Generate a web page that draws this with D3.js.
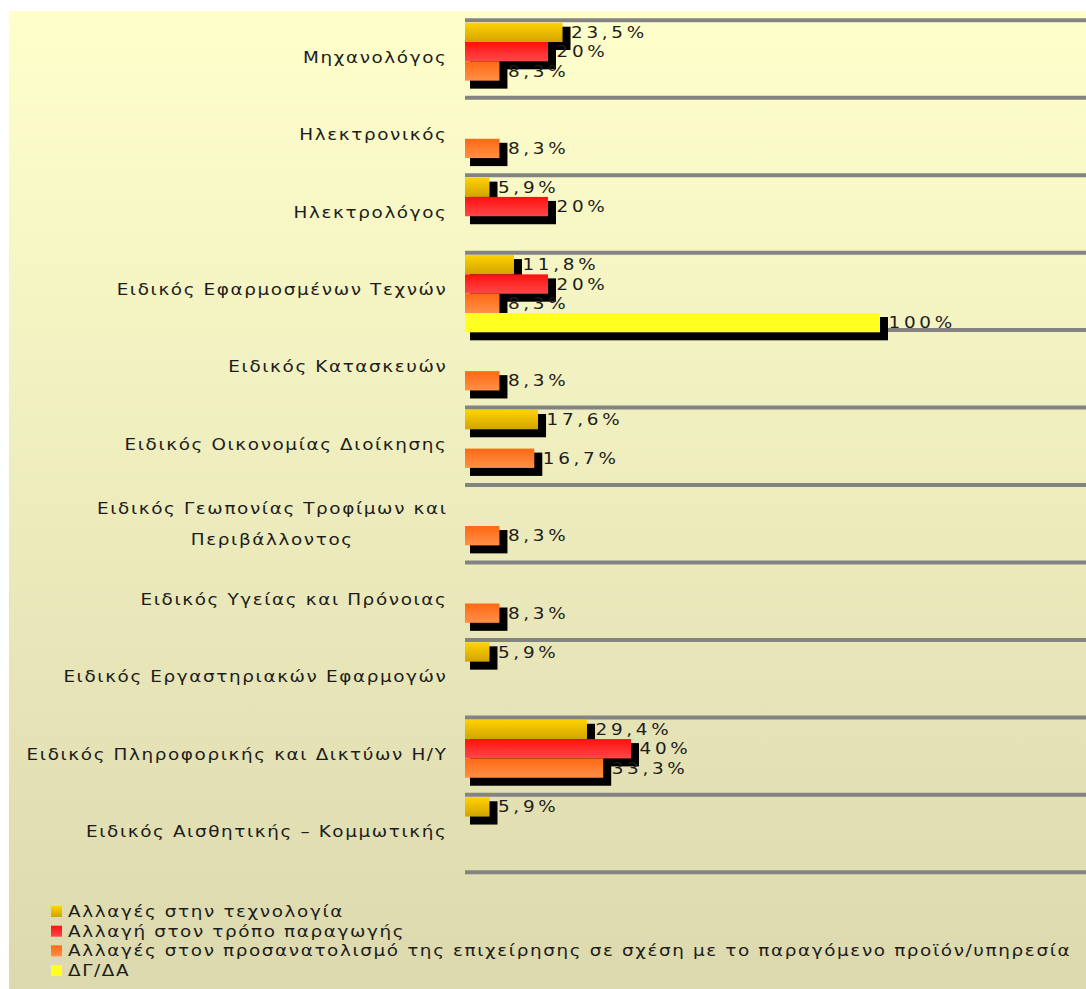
<!DOCTYPE html>
<html>
<head>
<meta charset="utf-8">
<script src="https://cdn.jsdelivr.net/npm/d3@7"></script>
<style>
  body { margin: 0; background: #ffffff; }
  svg { display: block; }
  text { font-family: "DejaVu Sans", Verdana, sans-serif; fill: #1c1c1c; }
</style>
</head>
<body>
<div id="my_dataviz"></div>
<script>
//Data
var categories = [
  ["Μηχανολόγος"],
  ["Ηλεκτρονικός"],
  ["Ηλεκτρολόγος"],
  ["Ειδικός Εφαρμοσμένων Τεχνών"],
  ["Ειδικός Κατασκευών"],
  ["Ειδικός Οικονομίας Διοίκησης"],
  ["Ειδικός Γεωπονίας Τροφίμων και", "Περιβάλλοντος"],
  ["Ειδικός Υγείας και Πρόνοιας"],
  ["Ειδικός Εργαστηριακών Εφαρμογών"],
  ["Ειδικός Πληροφορικής και Δικτύων Η/Υ"],
  ["Ειδικός Αισθητικής – Κομμωτικής"]
];
var seriesNames = [
  "Αλλαγές στην τεχνολογία",
  "Αλλαγή στον τρόπο παραγωγής",
  "Αλλαγές στον προσανατολισμό της επιχείρησης σε σχέση με το παραγόμενο προϊόν/υπηρεσία",
  "ΔΓ/ΔΑ"
];
// null = no bar for that category
var techValues   = [23.5, null, 5.9, 11.8, null, 17.6, null, null, 5.9, 29.4, 5.9];
var prodValues   = [20, null, 20, 20, null, null, null, null, null, 40, null];
var orientValues = [8.3, 8.3, null, 8.3, 8.3, 16.7, 8.3, 8.3, null, 33.3, null];
var dgdaValues   = [null, null, null, 100, null, null, null, null, null, null, null];
var seriesValues = [techValues, prodValues, orientValues, dgdaValues];

//Variables
var outerWidth = 1086, outerHeight = 989;
var gradStops = [
  ["#ffd200", "#d2a400"],
  ["#ff0f0f", "#ff4848"],
  ["#ff6812", "#ff9048"],
  ["#ffff22", "#ffff22"]
];
var linecolor = "#838383";
var shadowcolor = "#000000";
var stretch = 1.15;       // the original text is drawn wide and spaced
var labelSpacing = 1.4;
var valueSpacing = 3.2;

var svg = d3.select("#my_dataviz").append("svg")
  .attr("width", outerWidth)
  .attr("height", outerHeight);

var defs = svg.append("defs");

// background gradient
var bg = defs.append("linearGradient").attr("id", "bggrad")
  .attr("x1", 0).attr("y1", 0).attr("x2", 0).attr("y2", 1);
bg.append("stop").attr("offset", "0%").attr("stop-color", "#ffffcc");
bg.append("stop").attr("offset", "100%").attr("stop-color", "#dcd9ae");

// bar gradients
gradStops.forEach(function(s, i) {
  var g = defs.append("linearGradient").attr("id", "bar" + i)
    .attr("x1", 0).attr("y1", 0).attr("x2", 0).attr("y2", 1);
  g.append("stop").attr("offset", "0%").attr("stop-color", s[0]);
  g.append("stop").attr("offset", "100%").attr("stop-color", s[1]);
});

svg.append("rect")
  .attr("x", 9).attr("y", 11)
  .attr("width", outerWidth - 9).attr("height", outerHeight - 11)
  .attr("fill", "url(#bggrad)");

// wide text helper: text at (px,py) stretched horizontally
function wideText(parent, px, py, spacing) {
  return parent.append("g")
    .attr("transform", "translate(" + px + "," + py + ") scale(" + stretch + ",1)")
    .append("text")
    .attr("font-size", 16)
    .attr("letter-spacing", spacing);
}

// scales
var x = d3.scaleLinear().domain([0, 100]).range([465, 880]);
var y = d3.scaleBand().domain(d3.range(categories.length)).range([20.3, 872.3]).padding(0);
var ySub = d3.scaleBand().domain(d3.range(seriesNames.length)).range([2.4, y.bandwidth() + 2.2]).padding(0);

// category separator lines
var lineYs = d3.range(categories.length).map(function(i) { return y(i); }).concat([y.range()[1]]);
svg.append("g").selectAll("line")
  .data(lineYs)
  .enter().append("line")
  .attr("x1", x(0)).attr("x2", outerWidth)
  .attr("y1", function(d) { return d; })
  .attr("y2", function(d) { return d; })
  .attr("stroke", linecolor)
  .attr("stroke-width", 4);

// category labels
var labelRight = 447.5;
var labelsCat = svg.append("g");
categories.forEach(function(lines, i) {
  var cy = y(i) + y.bandwidth() / 2;
  var lineGap = 31;
  if (lines.length == 1) {
    wideText(labelsCat, labelRight, cy - 2, labelSpacing)
      .attr("text-anchor", "end")
      .attr("dominant-baseline", "central")
      .text(lines[0]);
  } else {
    var t = wideText(labelsCat, 0, 0, labelSpacing)
      .attr("dominant-baseline", "central");
    var spans = t.selectAll("tspan").data(lines).enter().append("tspan")
      .text(function(d) { return d; });
    var maxW = 0;
    spans.each(function() { maxW = Math.max(maxW, this.getComputedTextLength()); });
    d3.select(t.node().parentNode)
      .attr("transform", "translate(" + (labelRight - maxW * stretch / 2) + "," + cy + ") scale(" + stretch + ",1)");
    t.attr("text-anchor", "middle");
    spans.attr("x", 0)
      .attr("y", function(d, k) { return (k - (lines.length - 1) / 2) * lineGap; });
  }
});

// bars, one series after the other (shadow first, then bar)
var barsG = svg.append("g");
var labelsG = svg.append("g");
seriesValues.forEach(function(vals, s) {
  vals.forEach(function(v, i) {
    if (v == null) return;
    var y0 = y(i) + ySub(s), h = ySub.bandwidth();
    var x0 = x(0), x1 = x(v);
    barsG.append("rect")
      .attr("x", x0 + 5).attr("y", y0 + 4)
      .attr("width", x1 - x0 + 3).attr("height", h + 4)
      .attr("fill", shadowcolor);
    barsG.append("rect")
      .attr("x", x0).attr("y", y0)
      .attr("width", x1 - x0).attr("height", h)
      .attr("fill", "url(#bar" + s + ")");
    wideText(labelsG, x1 + 8.5, y0 + h / 2, valueSpacing)
      .attr("dominant-baseline", "central")
      .text(String(v).replace(".", ",") + "%");
  });
});

// legend
var legend = svg.append("g").selectAll("g")
  .data(seriesNames)
  .enter().append("g")
  .attr("transform", function(d, i) { return "translate(0," + (917 + i * 19.7) + ")"; });
legend.append("rect")
  .attr("x", 51).attr("y", -11)
  .attr("width", 11).attr("height", 11)
  .attr("fill", function(d, i) { return "url(#bar" + i + ")"; });
legend.each(function(d) {
  wideText(d3.select(this), 68, 0, labelSpacing).text(d);
});
</script>
</body>
</html>
